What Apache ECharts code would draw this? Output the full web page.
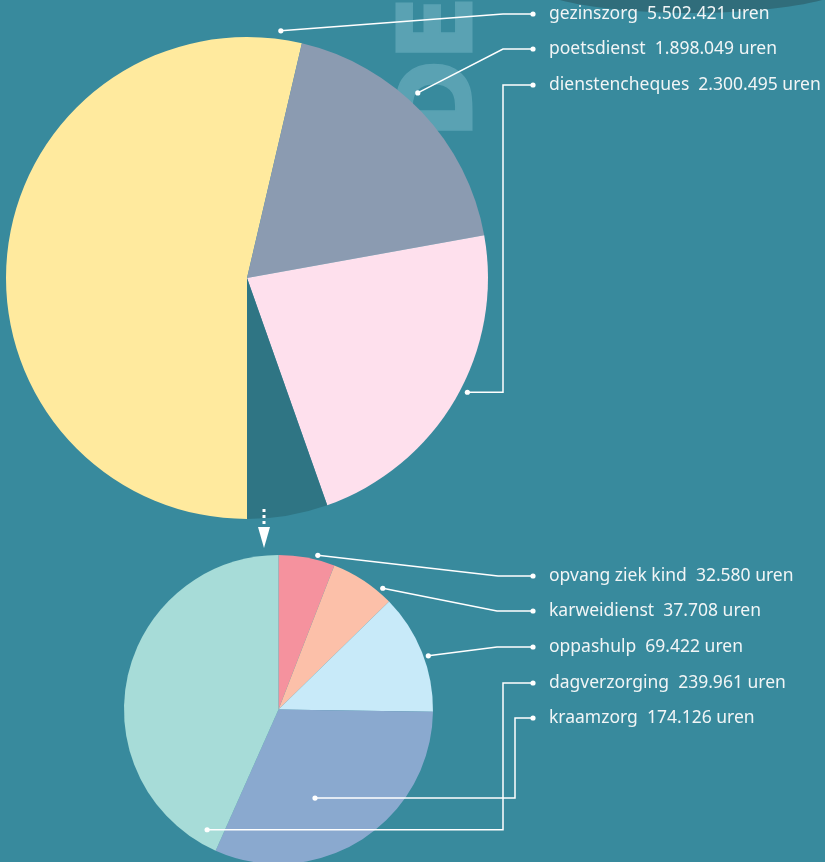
<!DOCTYPE html>
<html><head><meta charset="utf-8">
<script src="https://cdn.jsdelivr.net/npm/echarts@6/dist/echarts.min.js"></script>
<style>html,body{margin:0;padding:0;background:#388a9d;overflow:hidden}#c{width:825px;height:862px}</style>
</head><body><div id="c"></div>
<script>
// ---- data ----
const topNames = ['gezinszorg', 'poetsdienst', 'dienstencheques', 'overige'];
const topValues = [5502421, 1898049, 2300495, 553797];
const bottomNames = ['opvang ziek kind', 'karweidienst', 'oppashulp', 'kraamzorg', 'dagverzorging'];
const bottomValues = [32580, 37708, 69422, 174126, 239961];
const unitLabel = 'uren';

// ---- styles / layout ----
const topColors = ['#ffea9e', '#8b9bb1', '#fee0ed', '#2f7584'];
const bottomColors = ['#f5929e', '#fcc0a9', '#c8eaf9', '#8aa9cf', '#a7dcd8'];
const topPie = {cx: 247, cy: 278, r: 241};
const botPie = {cx: 278.5, cy: 709.5, r: 154.5};
const labelX = 549, dotX = 533;
const topRows = {gezinszorg: 14, poetsdienst: 49, dienstencheques: 85};
const botRows = {'opvang ziek kind': 576, karweidienst: 611, oppashulp: 647, dagverzorging: 683, kraamzorg: 718};
// anchors: [angle clockwise from 12 o'clock, radius factor]
const topAnchors = {gezinszorg: [7.8, 1.035], poetsdienst: [42.7, 1.045], dienstencheques: [117.4, 1.03]};
const botAnchors = {'opvang ziek kind': [14.3, 1.03], karweidienst: [40.7, 1.035], oppashulp: [70.3, 1.03], kraamzorg: [157.6, 0.62], dagverzorging: [210.7, 0.905]};
const topElbow = {gezinszorg: ['slant', 503], poetsdienst: ['slant', 503], dienstencheques: ['step', 503]};
const botElbow = {'opvang ziek kind': ['slant', 498], karweidienst: ['slant', 497], oppashulp: ['slant', 497], dagverzorging: ['step', 503], kraamzorg: ['step', 515]};

function fmt(v) { return String(v).replace(/\B(?=(\d{3})+(?!\d))/g, '.'); }
function anchorPt(pie, a) {
  const t = a[0] * Math.PI / 180, R = pie.r * a[1];
  return [pie.cx + R * Math.sin(t), pie.cy - R * Math.cos(t)];
}
function linePts(pie, name, rows, anchors, elbows) {
  const p = anchorPt(pie, anchors[name]);
  const y = rows[name];
  const e = elbows[name];
  if (e[0] === 'slant') return [p, [e[1], y], [dotX, y]];
  return [p, [e[1], p[1]], [e[1], y], [dotX, y]];
}
function makeLayout(names, rows) {
  return function (params) {
    const name = names[params.dataIndex];
    if (rows[name] == null) return {};
    return {x: labelX, y: rows[name], align: 'left', verticalAlign: 'middle'};
  };
}
const labelStyle = {
  show: true, position: 'outside', color: '#f1f5f6', fontSize: 17.5, fontFamily: 'Noto Sans',
  formatter: p => p.name + '  ' + fmt(p.value) + ' ' + unitLabel
};

// leader lines with dots at both ends
const leaders = [];
function addLeaders(pie, names, rows, anchors, elbows) {
  names.forEach(n => {
    if (rows[n] == null) return;
    const pts = linePts(pie, n, rows, anchors, elbows);
    leaders.push({type: 'polyline', z: 100, silent: true, shape: {points: pts},
      style: {stroke: '#ffffff', lineWidth: 1.5, fill: null}});
    [pts[0], pts[pts.length - 1]].forEach(q => leaders.push({
      type: 'circle', z: 101, shape: {cx: q[0], cy: q[1], r: 2.6}, style: {fill: '#ffffff'}, silent: true
    }));
  });
}
addLeaders(topPie, topNames, topRows, topAnchors, topElbow);
addLeaders(botPie, bottomNames, botRows, botAnchors, botElbow);

const chart = echarts.init(document.getElementById('c'), null, {renderer: 'canvas'});
chart.setOption({
  backgroundColor: '#388a9d',
  animation: false,
  graphic: [
    {type: 'ellipse', z: -10, shape: {cx: 691, cy: -20, rx: 165, ry: 33}, style: {fill: '#306d7b'}, silent: true},
    {type: 'text', z: -5, x: 444, y: -4, rotation: Math.PI / 2, scaleX: 0.92, silent: true,
      style: {text: 'DE', font: 'bold 102px "DejaVu Sans"', fill: '#5aa2b3', stroke: '#5aa2b3', lineWidth: 3, lineJoin: 'round',
        textAlign: 'right', textVerticalAlign: 'middle'}},
    {type: 'line', z: 60, shape: {x1: 264, y1: 509, x2: 264, y2: 527}, style: {stroke: '#ffffff', lineWidth: 3, lineDash: [3, 3]}, silent: true},
    {type: 'polygon', z: 60, shape: {points: [[258, 527], [270, 527], [264, 548]]}, style: {fill: '#ffffff'}, silent: true}
  ].concat(leaders),
  series: [
    {
      type: 'pie', silent: true, center: [topPie.cx, topPie.cy], radius: topPie.r,
      startAngle: 270, clockwise: true, avoidLabelOverlap: false,
      data: topNames.map((n, i) => ({
        name: n, value: topValues[i], itemStyle: {color: topColors[i]},
        label: {show: topRows[n] != null}
      })),
      label: labelStyle, labelLine: {show: false},
      labelLayout: makeLayout(topNames, topRows)
    },
    {
      type: 'pie', silent: true, center: [botPie.cx, botPie.cy], radius: botPie.r,
      startAngle: 90, clockwise: true, avoidLabelOverlap: false,
      data: bottomNames.map((n, i) => ({name: n, value: bottomValues[i], itemStyle: {color: bottomColors[i]}})),
      label: labelStyle, labelLine: {show: false},
      labelLayout: makeLayout(bottomNames, botRows)
    }
  ]
});
</script></body></html>
